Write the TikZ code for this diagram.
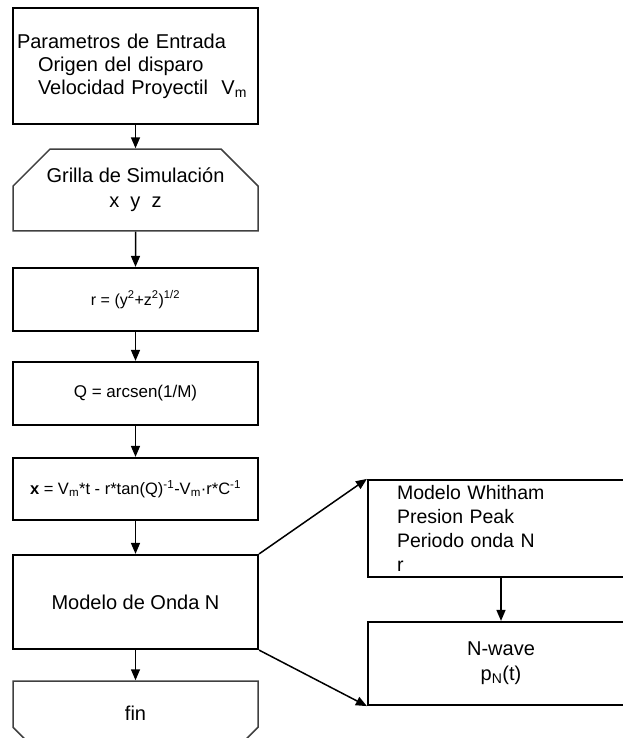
\documentclass[tikz,border=0pt]{standalone}
\usepackage{fontspec}
\setmainfont{Liberation Sans}
\usetikzlibrary{shapes.misc,arrows.meta}

\begin{document}
\begin{tikzpicture}[x=1pt, y=-1pt, >={Triangle[length=11pt,width=9pt]}, line width=1.5pt,
    main/.style = {draw, line width=2.2pt, minimum width=245pt, inner sep=0pt, align=center, font=\fontsize{20}{25}\selectfont},
    cut/.style = {draw=black!75, line width=1.5pt, chamfered rectangle, chamfered rectangle xsep=18pt, chamfered rectangle ysep=19pt, minimum width=245pt, inner sep=0pt, align=center, font=\fontsize{20}{25}\selectfont},
    side/.style = {main, minimum width=266pt}]
    \useasboundingbox (0,0) rectangle (623,738);

    \node[main, minimum height=116pt, text width=237pt, inner xsep=4pt, align=left, font=\fontsize{20}{23}\selectfont] at (135.5,66) (entrada) {Parametros de Entrada\\ \hspace*{21pt}Origen del disparo\\ \hspace*{21pt}Velocidad Proyectil\ \ V\textsubscript{m}};
    \node[cut, chamfered rectangle corners={north west,north east}, minimum height=74pt] at (135.5,190) (grilla) {Grilla de Simulación\\ x\ \ y\ \ z};
    \node[main, minimum height=63pt, font=\fontsize{16}{20}\selectfont] at (135.5,299.5) (radio) {r = (y\textsuperscript{2}+z\textsuperscript{2})\textsuperscript{1/2}};
    \node[main, minimum height=63pt, font=\fontsize{17}{20}\selectfont] at (135.5,393.5) (angulo) {Q = arcsen(1/M)};
    \node[main, minimum height=62pt, font=\fontsize{16.5}{18}\selectfont] at (135.5,489) (posx) {\textbf{x} = V\textsubscript{m}*t - r*tan(Q)\textsuperscript{-1}-V\textsubscript{m}·r*C\textsuperscript{-1}};
    \node[main, minimum height=94pt] at (135.5,602) (onda) {Modelo de Onda N};
    \node[cut, chamfered rectangle corners={south west,south east}, minimum height=64pt] at (135.5,713) (fin) {fin};

    \node[side, minimum height=97pt, text width=208pt, inner xsep=29pt, align=left, font=\fontsize{19.5}{24}\selectfont] at (501,528.5) (whitham) {Modelo Whitham\\ Presion Peak\\ Periodo onda N\\ r};
    \node[side, minimum height=83pt] at (501,663.5) (nwave) {N-wave\\ p\textsubscript{N}(t)};

    \path[->]
    (entrada) edge (grilla)
    (grilla) edge (radio)
    (radio) edge (angulo)
    (angulo) edge (posx)
    (posx) edge (onda)
    (onda) edge (fin)

    (onda.north east) edge (whitham.north west)
    (onda.south east) edge (nwave.south west)
    (whitham) edge (nwave)
    ;
\end{tikzpicture}
\end{document}
